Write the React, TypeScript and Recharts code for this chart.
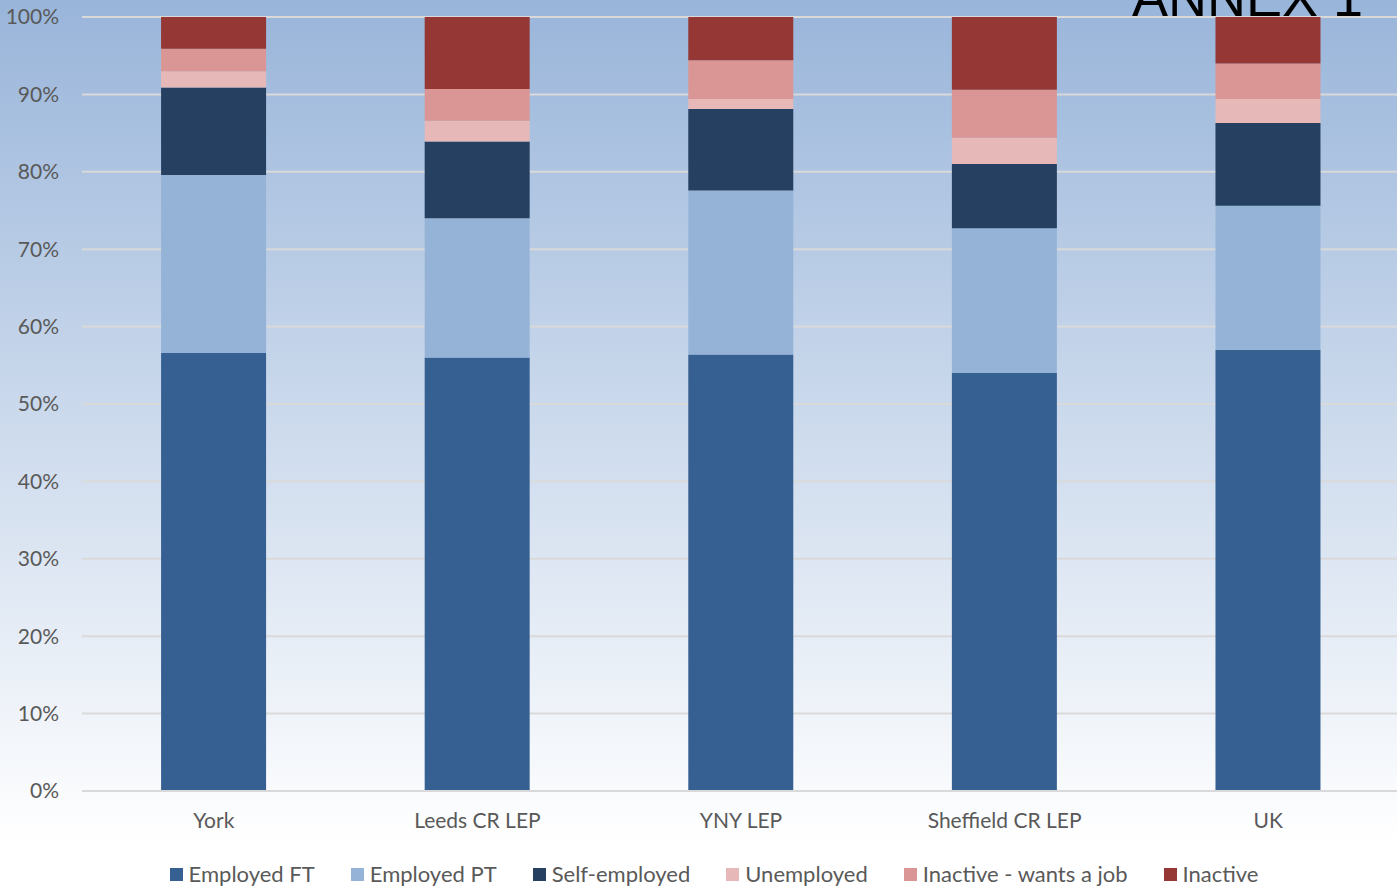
import React from "react";
import { BarChart, Bar, XAxis, YAxis, CartesianGrid, Legend } from "recharts";

const categories = ["York", "Leeds CR LEP", "YNY LEP", "Sheffield CR LEP", "UK"];
const employedFT = [56.6, 56.0, 56.4, 54.0, 57.0];
const employedPT = [23.0, 18.0, 21.2, 18.7, 18.6];
const selfEmployed = [11.3, 9.9, 10.5, 8.3, 10.7];
const unemployed = [2.1, 2.7, 1.3, 3.4, 3.1];
const inactiveWants = [2.9, 4.1, 5.0, 6.2, 4.6];
const inactive = [4.1, 9.3, 5.6, 9.4, 6.0];
const yTicks = [0, 0.1, 0.2, 0.3, 0.4, 0.5, 0.6, 0.7, 0.8, 0.9, 1];

const series = [
  { key: "ft", name: "Employed FT", color: "#366092", values: employedFT },
  { key: "pt", name: "Employed PT", color: "#95b3d7", values: employedPT },
  { key: "se", name: "Self-employed", color: "#254061", values: selfEmployed },
  { key: "un", name: "Unemployed", color: "#e6b9b8", values: unemployed },
  { key: "iw", name: "Inactive - wants a job", color: "#d99694", values: inactiveWants },
  { key: "in", name: "Inactive", color: "#953735", values: inactive },
];

const data = categories.map((c, i) => {
  const row: Record<string, string | number> = { name: c };
  series.forEach((s) => {
    row[s.key] = s.values[i];
  });
  return row;
});

const FONT = "Lato, 'Open Sans', sans-serif";

const LegendContent = () => (
  <div
    style={{
      height: 36,
      display: "flex",
      justifyContent: "center",
      alignItems: "flex-end",
      gap: 36,
      fontFamily: FONT,
      fontSize: 22,
      color: "#595959",
      paddingLeft: 28,
      boxSizing: "border-box",
    }}
  >
    {series.map((s) => (
      <div key={s.key} style={{ display: "flex", alignItems: "center", lineHeight: "26px" }}>
        <span style={{ display: "inline-block", width: 13, height: 13, background: s.color, marginRight: 6 }} />
        <span>{s.name}</span>
      </div>
    ))}
  </div>
);

export default function App() {
  return (
    <div
      style={{
        position: "absolute",
        left: 0,
        top: 0,
        width: 1397,
        height: 887,
        overflow: "hidden",
        background: "linear-gradient(to bottom, #99b5da 0%, #ffffff 95%)",
      }}
    >
      <BarChart
        width={1400}
        height={887}
        data={data}
        stackOffset="expand"
        barCategoryGap="30%"
        margin={{ top: 17, right: 0, bottom: 0, left: 0 }}
      >
        <CartesianGrid vertical={false} stroke="#d9d9d9" strokeWidth={2} />
        <XAxis
          dataKey="name"
          tickLine={false}
          tickSize={0}
          tickMargin={22}
          height={60}
          axisLine={{ stroke: "#d9d9d9", strokeWidth: 2 }}
          tick={{ fill: "#595959", fontSize: 21, fontFamily: FONT }}
        />
        <YAxis
          width={82}
          domain={[0, 1]}
          ticks={yTicks}
          tickFormatter={(v: number) => `${Math.round(v * 100)}%`}
          tickLine={false}
          tickSize={0}
          tickMargin={23}
          axisLine={false}
          tick={{ fill: "#595959", fontSize: 21, fontFamily: FONT }}
        />
        <Legend verticalAlign="bottom" content={<LegendContent />} />
        {series.map((s) => (
          <Bar key={s.key} dataKey={s.key} name={s.name} stackId="a" fill={s.color} isAnimationActive={false} />
        ))}
      </BarChart>
      <svg
        width={1397}
        height={60}
        style={{ position: "absolute", left: 0, top: 0, pointerEvents: "none" }}
      >
        <text x={1132} y={15.5} fontFamily="'Liberation Sans', Arial, sans-serif" fontSize={54} fill="#000">
          ANNEX 1
        </text>
      </svg>
    </div>
  );
}
